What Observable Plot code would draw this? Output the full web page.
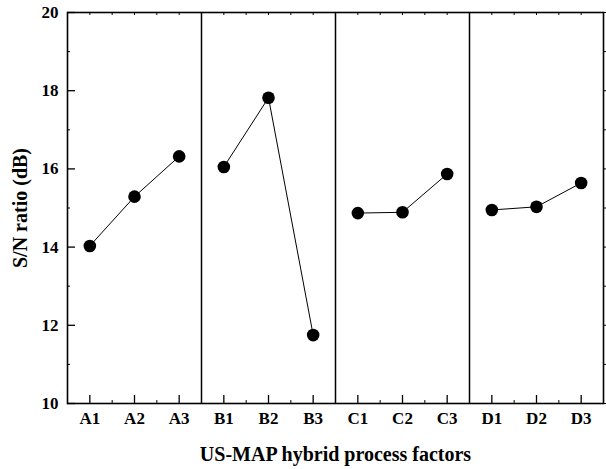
<!DOCTYPE html>
<html>
<head>
<meta charset="utf-8">
<script src="https://cdn.jsdelivr.net/npm/d3@7"></script>
<script src="https://cdn.jsdelivr.net/npm/@observablehq/plot@0.6"></script>
<style>
  html, body { margin: 0; padding: 0; background: #fff; }
  #chart { width: 606px; height: 469px; }
</style>
</head>
<body>
<div id="chart"></div>
<script>
const factors = ["A", "B", "C", "D"];
const levels = ["A1", "A2", "A3", "B1", "B2", "B3", "C1", "C2", "C3", "D1", "D2", "D3"];
const snRatio = [14.03, 15.29, 16.32, 16.05, 17.82, 11.75, 14.87, 14.89, 15.87, 14.95, 15.03, 15.64];
const yMajorTicks = [10, 12, 14, 16, 18, 20];
const yMinorTicks = [11, 13, 15, 17, 19];
const xTitle = "US-MAP hybrid process factors";
const yTitle = "S/N ratio (dB)";

const data = levels.map((lv, i) => ({level: lv, factor: lv[0], idx: i + 0.5, sn: snRatio[i]}));
const centers = levels.map((_, i) => i + 0.5);
const bounds = d3.range(1, levels.length);
const separators = factors.slice(1).map((_, i) => (i + 1) * 3);
const halves = d3.range(0.5, levels.length, 0.5);
const blank = () => "";

const chart = Plot.plot({
  width: 606,
  height: 469,
  marginLeft: 67,
  marginRight: 3,
  marginTop: 12,
  marginBottom: 66,
  style: {fontFamily: "'Liberation Serif', 'Times New Roman', serif", fontWeight: "bold", fontSize: "17px", color: "#000", background: "#fff"},
  x: {domain: [0, levels.length], axis: null},
  y: {domain: [10, 20], axis: null},
  marks: [
    Plot.ruleX(separators, {stroke: "#000", strokeWidth: 1.5}),
    Plot.line(data, {x: "idx", y: "sn", z: "factor", stroke: "#000", strokeWidth: 1}),
    Plot.dot(data, {x: "idx", y: "sn", r: 6.3, fill: "#000", stroke: "none"}),
    Plot.axisY({ticks: yMajorTicks, label: null, tickSize: -8, tickPadding: 17, strokeWidth: 1.3, fontSize: 17, tickFormat: d => String(d)}),
    Plot.axisY({ticks: yMinorTicks, label: null, tickSize: -3, tickFormat: blank, strokeWidth: 1}),
    Plot.axisY({anchor: "right", label: null, ticks: d3.range(10, 21), tickSize: 2, tickFormat: blank, strokeWidth: 1}),
    Plot.axisX({ticks: centers, label: null, tickSize: -8, tickPadding: 16, strokeWidth: 1.3, fontSize: 17, tickFormat: d => levels[Math.round(d - 0.5)]}),
    Plot.axisX({ticks: bounds, label: null, tickSize: -3, tickFormat: blank, strokeWidth: 1}),
    Plot.axisX({anchor: "top", label: null, ticks: halves, tickSize: -2, tickFormat: blank, strokeWidth: 1}),
    Plot.frame({stroke: "#000", strokeWidth: 1.6}),
    Plot.text([xTitle], {frameAnchor: "bottom", textAnchor: "middle", dy: 57, text: d => d, fontSize: 20, fontWeight: "bold"}),
    Plot.text([yTitle], {frameAnchor: "left", textAnchor: "middle", lineAnchor: "middle", dx: -47, rotate: -90, text: d => d, fontSize: 20, fontWeight: "bold"})
  ]
});
document.getElementById("chart").appendChild(chart);
</script>
</body>
</html>
